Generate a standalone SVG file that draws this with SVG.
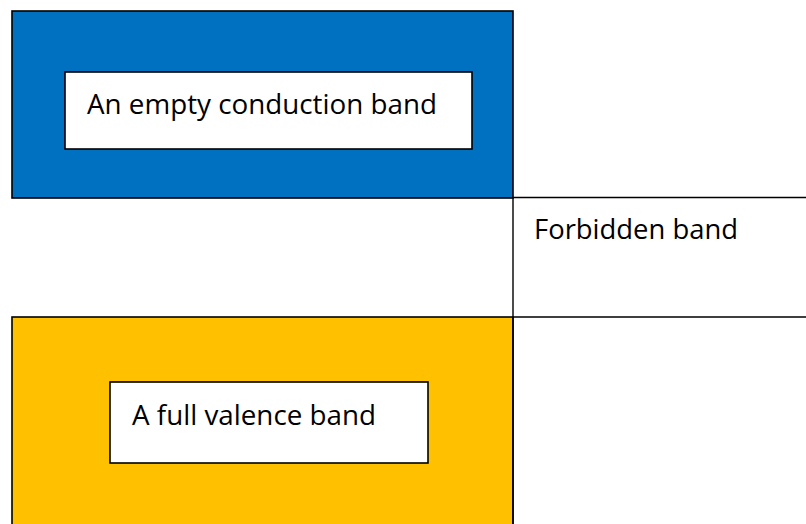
<svg xmlns="http://www.w3.org/2000/svg" width="806" height="524" viewBox="0 0 806 524">
  <style>
    .band { stroke: #000; stroke-width: 1.6; }
    .label-box { fill: #fff; stroke: #000; stroke-width: 1.6; }
    .label { font-family: "Open Sans", "Liberation Sans", sans-serif; font-size: 28px; fill: #000; }
    .edge { fill: none; stroke: #000; stroke-width: 1.4; }
  </style>
  <rect width="806" height="524" fill="#fff"/>

  <!-- conduction band -->
  <g id="conduction-band">
    <rect class="band" x="12" y="11" width="501" height="187" fill="#0070C0"/>
    <rect class="label-box" x="65" y="72" width="407" height="77"/>
    <text class="label" x="87" y="114" textLength="350" lengthAdjust="spacingAndGlyphs">An empty conduction band</text>
  </g>

  <!-- forbidden band -->
  <g id="forbidden-band">
    <text class="label" x="534" y="239" textLength="204" lengthAdjust="spacingAndGlyphs">Forbidden band</text>
  </g>

  <!-- valence band -->
  <g id="valence-band">
    <rect class="band" x="12" y="317" width="501" height="220" fill="#FFC000"/>
    <rect class="label-box" x="110" y="382" width="318" height="81"/>
    <text class="label" x="132" y="425" textLength="244" lengthAdjust="spacingAndGlyphs">A full valence band</text>
  </g>

  <!-- boundary lines of the gap region -->
  <g id="connectors">
    <path class="edge" d="M513 197.5 H806 M513 317 H806 M513 197.5 V524"/>
  </g>
</svg>
